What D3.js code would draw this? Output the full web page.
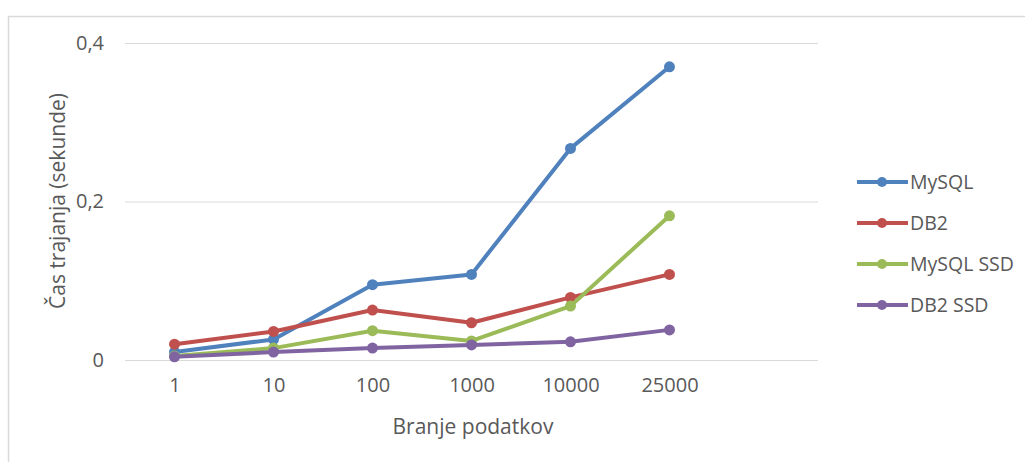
<!DOCTYPE html>
<html>
<head>
<meta charset="utf-8">
<script src="https://cdn.jsdelivr.net/npm/d3@7"></script>
<style>
  html, body { margin: 0; padding: 0; background: #fff; }
  svg { display: block; }
  text { font-family: "Segoe UI", "Open Sans", "Noto Sans", sans-serif; fill: #595959; }
</style>
</head>
<body>
<svg id="chart" width="1025" height="462"></svg>
<script>
// Number of rows read (category axis)
const categories = ["1", "10", "100", "1000", "10000", "25000"];

// Read time in seconds per database setup
const mysql    = [0.010, 0.026, 0.095, 0.108, 0.267, 0.370];
const db2      = [0.020, 0.036, 0.063, 0.047, 0.079, 0.108];
const mysqlSsd = [0.005, 0.015, 0.037, 0.024, 0.068, 0.182];
const db2Ssd   = [0.004, 0.010, 0.015, 0.019, 0.023, 0.038];

const seriesNames = ["MySQL", "DB2", "MySQL SSD", "DB2 SSD"];
const seriesColors = ["#4F81BD", "#C0504D", "#9BBB59", "#8064A2"];
const yTicks = [0, 0.2, 0.4];

const series = [mysql, db2, mysqlSsd, db2Ssd].map((values, i) => ({
  name: seriesNames[i],
  color: seriesColors[i],
  values
}));

const svg = d3.select("#chart");

// Chart area frame
svg.append("rect")
  .attr("x", 8.5).attr("y", 16.5)
  .attr("width", 1030).attr("height", 460)
  .attr("fill", "none")
  .attr("stroke", "#d9d9d9")
  .attr("stroke-width", 1.5);

const plot = { left: 125, right: 818, top: 43, bottom: 360 };
const step = (plot.right - plot.left) / 7;

const x = d3.scalePoint()
  .domain(categories)
  .range([plot.left + step / 2, plot.left + step * 5.5]);

const y = d3.scaleLinear()
  .domain([0, 0.4])
  .range([plot.bottom, plot.top]);

const fmt = v => d3.format("~g")(v).replace(".", ",");

// Horizontal gridlines and y tick labels
const yAxis = d3.axisLeft(y)
  .tickValues(yTicks)
  .tickFormat(fmt)
  .tickSize(-(plot.right - plot.left))
  .tickPadding(21);

const gy = svg.append("g")
  .attr("transform", `translate(${plot.left},0)`)
  .call(yAxis);
gy.select(".domain").remove();
gy.selectAll(".tick line").attr("stroke", "#d9d9d9").attr("stroke-width", 1.2);
gy.selectAll(".tick text")
  .attr("fill", "#595959")
  .style("font-size", "20px");

// Category labels
const xAxis = d3.axisBottom(x).tickSize(0).tickPadding(18);
const gx = svg.append("g")
  .attr("transform", `translate(0,${plot.bottom})`)
  .call(xAxis);
gx.select(".domain").remove();
gx.selectAll(".tick text")
  .attr("fill", "#595959")
  .style("font-size", "20px");

// Axis titles
svg.append("text")
  .attr("x", 473).attr("y", 434)
  .attr("text-anchor", "middle")
  .style("font-size", "21px")
  .text("Branje podatkov");

svg.append("text")
  .attr("transform", "translate(65,201) rotate(-90)")
  .attr("text-anchor", "middle")
  .style("font-size", "21px")
  .text("Čas trajanja (sekunde)");

// Lines with circular markers
const line = d3.line()
  .x((d, i) => x(categories[i]))
  .y(d => y(d));

const sg = svg.append("g").selectAll("g.series")
  .data(series)
  .join("g")
  .attr("class", "series");

sg.append("path")
  .attr("d", d => line(d.values))
  .attr("fill", "none")
  .attr("stroke", d => d.color)
  .attr("stroke-width", 4)
  .attr("stroke-linejoin", "round")
  .attr("stroke-linecap", "round");

sg.selectAll("circle")
  .data(d => d.values.map(v => ({ v, color: d.color })))
  .join("circle")
  .attr("cx", (d, i) => x(categories[i]))
  .attr("cy", d => y(d.v))
  .attr("r", 5.5)
  .attr("fill", d => d.color);

// Legend
const legend = svg.append("g").selectAll("g")
  .data(series)
  .join("g")
  .attr("transform", (d, i) => `translate(857,${182 + i * 41})`);

legend.append("line")
  .attr("x1", 0).attr("x2", 51)
  .attr("stroke", d => d.color)
  .attr("stroke-width", 4);
legend.append("circle")
  .attr("cx", 25).attr("r", 5)
  .attr("fill", d => d.color);
legend.append("text")
  .attr("x", 53).attr("dy", "0.35em")
  .style("font-size", "19.5px")
  .text(d => d.name);
</script>
</body>
</html>
